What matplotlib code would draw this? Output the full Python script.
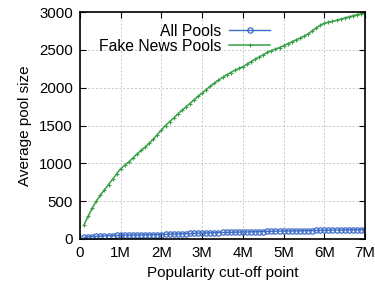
import numpy as np
import matplotlib
matplotlib.use("Agg")
import matplotlib.pyplot as plt

plt.rcParams['font.family'] = ['Liberation Sans', 'DejaVu Sans']

cutoff_m = [round(0.1 * i, 1) for i in range(1, 71)]

all_pools = [22, 28, 32, 35, 38, 40, 43, 45, 47, 49,
             50, 51, 52, 53, 54, 55, 56, 57, 58, 59,
             61, 63, 65, 67, 69, 71, 73, 75, 77, 79,
             80, 82, 83, 84, 86, 87, 88, 90, 91, 92,
             93, 95, 96, 97, 99, 100, 101, 103, 104, 105,
             106, 107, 108, 109, 110, 111, 112, 113, 114, 115,
             116, 117, 118, 119, 120, 121, 122, 122, 123, 124]

fake_news_pools = [190, 300, 410, 500, 580, 650, 720, 790, 860, 930,
                   975, 1020, 1070, 1125, 1170, 1215, 1265, 1320, 1380, 1440,
                   1500, 1550, 1600, 1650, 1700, 1745, 1790, 1840, 1885, 1930,
                   1975, 2020, 2060, 2100, 2135, 2170, 2200, 2230, 2255, 2275,
                   2310, 2345, 2375, 2405, 2435, 2465, 2490, 2510, 2530, 2555,
                   2580, 2605, 2630, 2655, 2680, 2710, 2750, 2790, 2825, 2850,
                   2865, 2875, 2890, 2905, 2920, 2935, 2950, 2965, 2975, 2985]

x_ticks = [0, 1, 2, 3, 4, 5, 6, 7]
x_tick_labels = ["0", "1M", "2M", "3M", "4M", "5M", "6M", "7M"]
y_ticks = [0, 500, 1000, 1500, 2000, 2500, 3000]

fig = plt.figure(figsize=(3.75, 2.92), dpi=100)
ax = fig.add_axes([80/375, 53/292, 285/375, 227/292])

blue = '#3d6cc6'
green = '#38a048'

ax.plot(cutoff_m, all_pools, color=blue, lw=1.0, marker='o', ms=3.8,
        mfc='none', mew=0.9, label='All Pools')
ax.plot(cutoff_m, fake_news_pools, color=green, lw=1.1, marker='+', ms=3.5,
        mew=0.8, label='Fake News Pools')

ax.set_xlim(0, 7)
ax.set_ylim(0, 3000)
ax.set_xticks(x_ticks)
ax.set_xticklabels(x_tick_labels)
ax.set_yticks(y_ticks)
ax.tick_params(direction='in', length=4, width=0.8, top=True, right=True,
               labelsize=10.8, pad=5, colors='black')
ax.grid(True, color='#c8c8c8', linestyle=(0, (2, 2)), lw=0.7)
for s in ax.spines.values():
    s.set_linewidth(1.2)

ax.set_xlabel('Popularity cut-off point', fontsize=11, labelpad=4)
ax.set_ylabel('Average pool size', fontsize=11, labelpad=5)

leg = ax.legend(loc='upper left', bbox_to_anchor=(0.025, 1.0), markerfirst=False,
                frameon=False, fontsize=11.3, handlelength=2.6, handletextpad=0.5,
                labelspacing=0.0, borderaxespad=0.35)

fig.savefig('out.png', dpi=100)
